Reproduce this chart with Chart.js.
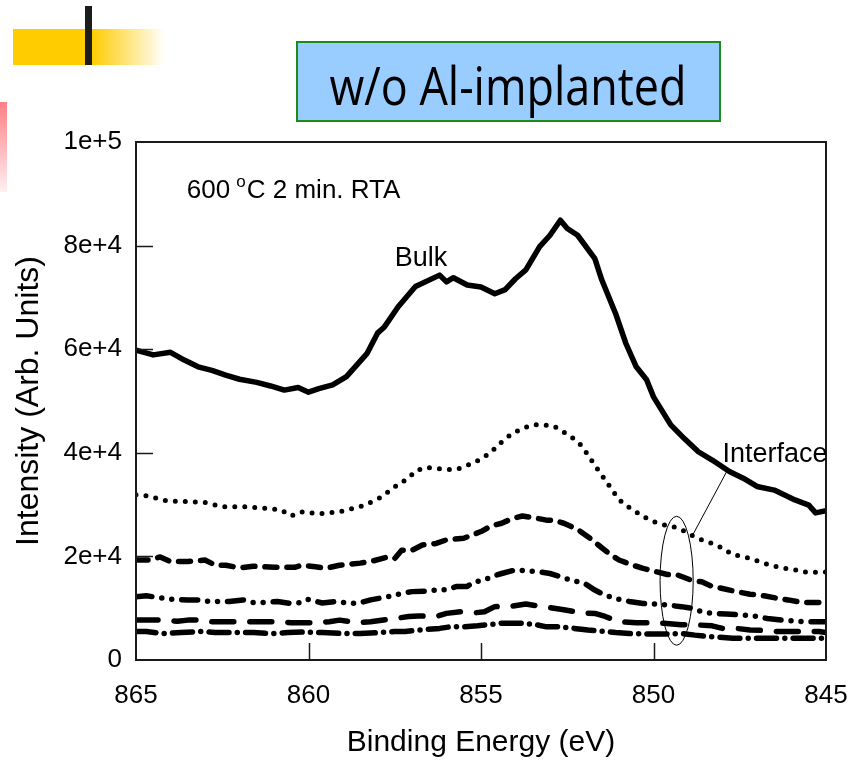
<!DOCTYPE html>
<html>
<head>
<meta charset="utf-8">
<script src="https://cdn.jsdelivr.net/npm/chart.js@4.4.1/dist/chart.umd.min.js"></script>
<style>
  body { margin: 0; background: #fff; }
  #wrap { position: relative; width: 850px; height: 763px; }
</style>
</head>
<body>
<div id="wrap"><canvas id="myChart" width="850" height="763"></canvas></div>
<script>
// binding energy (eV) and intensity for each depth profile curve
const bulkEnergy = [865, 864.5, 864.0, 863.6, 863.2, 862.8, 862.4, 862.0, 861.5, 861.1, 860.7, 860.3, 860.0, 859.7, 859.3, 858.9, 858.3, 858.0, 857.8, 857.4, 856.9, 856.2, 856.0, 855.8, 855.4, 855.0, 854.6, 854.3, 854.0, 853.7, 853.3, 853.0, 852.7, 852.5, 852.2, 851.7, 851.5, 851.1, 850.8, 850.5, 850.2, 850.0, 849.5, 849.1, 848.7, 848.3, 847.8, 847.4, 847.0, 846.5, 845.9, 845.5, 845.3, 845.0];
const bulkCounts = [59800, 58900, 59400, 57900, 56600, 55900, 55000, 54200, 53600, 52900, 52100, 52600, 51700, 52400, 53100, 54700, 59200, 63100, 64300, 68200, 72100, 74300, 73000, 73800, 72400, 72000, 70700, 71500, 73600, 75300, 79800, 82000, 84900, 83300, 82000, 77500, 73400, 66900, 61100, 56600, 54100, 50800, 45400, 42700, 40200, 38600, 36400, 35100, 33500, 32800, 30900, 29900, 28400, 28800];

const dotEnergy = [865, 864.7, 864.4, 864.1, 863.6, 863.0, 862.5, 861.9, 861.3, 860.8, 860.5, 860.2, 859.7, 859.1, 858.5, 858.0, 857.7, 857.4, 857.1, 856.9, 856.6, 856.0, 855.7, 855.2, 854.9, 854.6, 854.4, 854.1, 853.8, 853.5, 853.2, 852.9, 852.7, 852.4, 852.1, 851.9, 851.7, 851.5, 851.3, 851.1, 850.9, 850.6, 850.3, 850.0, 849.7, 849.5, 849.2, 848.9, 848.6, 848.3, 848.0, 847.7, 847.4, 847.1, 846.8, 846.5, 846.2, 845.9, 845.7, 845.4, 845.0];
const dotCounts = [31900, 31700, 31200, 30700, 30600, 30400, 29600, 29600, 29300, 29000, 27800, 28600, 28200, 28600, 29600, 31000, 32400, 33900, 35100, 36500, 37200, 36800, 36800, 38100, 39200, 40800, 42100, 43700, 44700, 45400, 45400, 45200, 44400, 43200, 41500, 39600, 37600, 35700, 33800, 31900, 30300, 29000, 27700, 26700, 26100, 25900, 25200, 24100, 23200, 22500, 21600, 20300, 20000, 19400, 18700, 18100, 17700, 17400, 17000, 16900, 17000];

const dashEnergy = [865, 864.6, 864.3, 864.0, 863.5, 863.0, 862.7, 862.4, 862.0, 861.6, 861.0, 860.4, 860.2, 859.8, 859.5, 859.1, 858.5, 858.2, 857.7, 857.5, 857.3, 857.0, 856.7, 856.3, 856.0, 855.5, 855.0, 854.7, 854.4, 854.1, 853.8, 853.5, 853.1, 852.9, 852.6, 852.2, 851.9, 851.6, 851.3, 851.0, 850.6, 850.3, 849.9, 849.6, 849.3, 848.9, 848.6, 848.3, 848.0, 847.6, 847.2, 846.8, 846.4, 846.1, 845.7, 845.3, 845.0];
const dashCounts = [19300, 19300, 19900, 19000, 19000, 19300, 18300, 18300, 17800, 18100, 17900, 17900, 18300, 18000, 17700, 18300, 18700, 19000, 19900, 19600, 21200, 21200, 22200, 22500, 23200, 23500, 24800, 25900, 26400, 27300, 27800, 27500, 27000, 27000, 26400, 25200, 23800, 22200, 20600, 19300, 18300, 17700, 17000, 16500, 16400, 15400, 15100, 14200, 13800, 13200, 12700, 12400, 11900, 11600, 11100, 11100, 11100];

const ddotEnergy = [865, 864.7, 864.2, 863.9, 863.5, 863.1, 862.9, 862.6, 862.3, 861.9, 861.6, 861.3, 860.9, 860.5, 860.2, 860.0, 859.6, 859.2, 858.9, 858.6, 858.2, 857.8, 857.5, 857.3, 857.0, 856.6, 856.3, 856.0, 855.7, 855.4, 855.2, 854.9, 854.7, 854.4, 854.0, 853.6, 853.3, 853.0, 852.7, 852.4, 852.0, 851.7, 851.4, 851.0, 850.7, 850.3, 849.9, 849.6, 849.2, 848.9, 848.6, 848.3, 847.9, 847.5, 847.1, 846.7, 846.3, 845.9, 845.6, 845.2, 845.0];
const ddotCounts = [12200, 12400, 11900, 11700, 11600, 11600, 11300, 11300, 11300, 11600, 11100, 11100, 11300, 10900, 11100, 11700, 11000, 11300, 11000, 10900, 11600, 12100, 12500, 12900, 13200, 13300, 13500, 13600, 14200, 14200, 15100, 15400, 16100, 16700, 17400, 17200, 17000, 16700, 16100, 15400, 14800, 13500, 12500, 11700, 11300, 10900, 10800, 10600, 10300, 10000, 9300, 9000, 8900, 8700, 8500, 8000, 7700, 7500, 7400, 7400, 7400];

const ldashEnergy = [865, 864.6, 864.3, 863.8, 863.5, 863.1, 862.8, 862.0, 861.6, 860.9, 860.5, 859.7, 859.4, 859.1, 858.6, 858.2, 857.5, 857.1, 856.8, 856.3, 856.0, 855.6, 855.2, 854.9, 854.6, 854.3, 854.1, 853.7, 853.3, 852.6, 852.1, 851.7, 851.4, 851.0, 850.5, 850.1, 849.7, 849.2, 848.8, 848.3, 848.0, 847.6, 847.2, 846.8, 846.4, 846.0, 845.6, 845.2, 845.0];
const ldashCounts = [7700, 7700, 7700, 7500, 7700, 7700, 7400, 7400, 7400, 7400, 7200, 7200, 7400, 7700, 7200, 7400, 8000, 8400, 8500, 8400, 9000, 9300, 9100, 9300, 10300, 10400, 10400, 10800, 10400, 9700, 9100, 9000, 8400, 7400, 7200, 7200, 7100, 6800, 6800, 6600, 6100, 6100, 5800, 5700, 5500, 5500, 5500, 5500, 5300];

const dashdotEnergy = [865, 864.7, 864.2, 863.7, 863.1, 862.7, 862.1, 861.6, 861.1, 860.6, 860.1, 859.6, 859.0, 858.5, 857.9, 857.5, 857.2, 856.9, 856.6, 856.2, 855.9, 855.5, 855.1, 854.8, 854.4, 854.2, 853.8, 853.4, 853.1, 852.7, 852.3, 851.9, 851.4, 851.1, 850.7, 850.2, 849.8, 849.2, 848.8, 848.3, 847.7, 847.1, 846.5, 845.9, 845.3, 845.0];
const dashdotCounts = [5500, 5500, 5100, 5300, 5500, 5300, 5300, 5300, 5100, 5300, 5400, 5300, 5100, 5100, 5300, 5500, 5500, 5700, 5900, 6100, 6400, 6400, 6600, 6800, 7100, 7100, 7100, 6800, 6400, 6400, 6100, 5800, 5500, 5300, 5100, 5000, 5000, 5100, 4800, 4500, 4200, 4200, 4200, 4200, 4200, 4200];

const xTicks = [865, 860, 855, 850, 845];
const yTicks = [0, 20000, 40000, 60000, 80000, 100000];

const FONT = "'Liberation Sans', Arial, sans-serif";

function toPoints(energy, counts) {
    return energy.map((e, i) => ({ x: e, y: counts[i] }));
}

function curve(energy, counts, width, dash) {
    return {
        data: toPoints(energy, counts),
        borderColor: '#000',
        borderWidth: width,
        borderDash: dash,
        borderCapStyle: 'round',
        borderJoinStyle: 'round',
        pointRadius: 0,
        tension: 0,
        fill: false
    };
}

// slide decorations + title box
const slideDecor = {
    id: 'slideDecor',
    beforeDraw(chart) {
        const ctx = chart.ctx;
        ctx.save();
        // yellow bar fading to white
        ctx.fillStyle = '#ffcc00';
        ctx.fillRect(13, 29, 80, 36);
        let g = ctx.createLinearGradient(92, 0, 165, 0);
        g.addColorStop(0, 'rgba(255,204,0,1)');
        g.addColorStop(1, 'rgba(255,204,0,0)');
        ctx.fillStyle = g;
        ctx.fillRect(92, 29, 73, 36);
        ctx.fillStyle = '#1c1c1c';
        ctx.fillRect(85, 6, 7, 59);
        // pink strip
        g = ctx.createLinearGradient(0, 102, 0, 192);
        g.addColorStop(0, '#ff7f86');
        g.addColorStop(1, '#fff0f2');
        ctx.fillStyle = g;
        ctx.fillRect(0, 102, 7, 90);
        // title box
        ctx.fillStyle = '#99ccff';
        ctx.fillRect(297, 42, 423, 79);
        ctx.strokeStyle = '#1d8a1d';
        ctx.lineWidth = 2;
        ctx.strokeRect(297, 42, 423, 79);
        ctx.fillStyle = '#000';
        ctx.font = "48px 'Open Sans', 'DejaVu Sans', sans-serif";
        const title = 'w/o Al-implanted';
        const w = ctx.measureText(title).width;
        ctx.translate(508, 105);
        ctx.scale(357 / w, 1.12);
        ctx.textAlign = 'center';
        ctx.textBaseline = 'alphabetic';
        ctx.fillText(title, 0, 0);
        ctx.restore();
    }
};

// frame, inward ticks and annotations
const frameAndNotes = {
    id: 'frameAndNotes',
    afterDatasetsDraw(chart) {
        const ctx = chart.ctx;
        const a = chart.chartArea;
        const xs = chart.scales.x, ys = chart.scales.y;
        ctx.save();
        ctx.strokeStyle = '#1a1a1a';
        ctx.lineWidth = 2;
        ctx.strokeRect(a.left, a.top, a.right - a.left, a.bottom - a.top);
        ctx.lineWidth = 1.5;
        ctx.beginPath();
        yTicks.slice(1, -1).forEach(v => {
            const py = Math.round(ys.getPixelForValue(v)) + 0.5;
            ctx.moveTo(a.left, py);
            ctx.lineTo(a.left + 17, py);
        });
        xTicks.slice(1, -1).forEach(v => {
            const px = Math.round(xs.getPixelForValue(v)) + 0.5;
            ctx.moveTo(px, a.bottom);
            ctx.lineTo(px, a.bottom - 17);
        });
        ctx.stroke();

        // interface ellipse and leader line
        ctx.strokeStyle = '#000';
        ctx.lineWidth = 1;
        const cx = xs.getPixelForValue(849.33), cy = ys.getPixelForValue(15300);
        const rx = Math.abs(xs.getPixelForValue(849.33 - 0.48) - cx);
        const ry = Math.abs(ys.getPixelForValue(15300 + 12450) - cy);
        ctx.beginPath();
        ctx.ellipse(cx, cy, rx, ry, 0, 0, Math.PI * 2);
        ctx.stroke();
        ctx.beginPath();
        ctx.moveTo(xs.getPixelForValue(848.89), ys.getPixelForValue(23800));
        ctx.lineTo(xs.getPixelForValue(847.88), ys.getPixelForValue(36350));
        ctx.stroke();

        // text labels
        ctx.fillStyle = '#000';
        ctx.textBaseline = 'alphabetic';
        ctx.textAlign = 'left';
        ctx.font = '27px ' + FONT;
        ctx.fillText('Interface', xs.getPixelForValue(848.0), ys.getPixelForValue(38300));
        ctx.fillText('Bulk', xs.getPixelForValue(857.5), ys.getPixelForValue(76100));

        let tx = xs.getPixelForValue(863.53);
        const ty = ys.getPixelForValue(89100);
        ctx.font = '26px ' + FONT;
        ctx.fillText('600', tx, ty);
        tx += ctx.measureText('600 ').width - 1;
        ctx.font = '17px ' + FONT;
        ctx.fillText('o', tx, ty - 11);
        tx += ctx.measureText('o').width + 1;
        ctx.font = '26px ' + FONT;
        ctx.fillText('C 2 min. RTA', tx, ty);
        ctx.restore();
    }
};

Chart.defaults.font.family = FONT;
Chart.defaults.color = '#000';

new Chart(document.getElementById('myChart'), {
    type: 'line',
    data: {
        datasets: [
            curve(bulkEnergy, bulkCounts, 5.5, []),
            curve(dotEnergy, dotCounts, 5, [0, 10]),
            curve(dashEnergy, dashCounts, 5.5, [12, 10]),
            curve(ddotEnergy, ddotCounts, 5.5, [16, 10, 0, 10, 0, 10]),
            curve(ldashEnergy, ldashCounts, 5.5, [22, 16]),
            curve(dashdotEnergy, dashdotCounts, 5.5, [20, 8.3, 0, 8.3])
        ]
    },
    options: {
        responsive: false,
        animation: false,
        layout: { padding: { top: 142, right: 24, left: 0, bottom: 0 } },
        plugins: { legend: { display: false }, tooltip: { enabled: false } },
        scales: {
            x: {
                type: 'linear',
                reverse: true,
                min: 845,
                max: 865,
                afterFit: (s) => { s.height = 103; s.paddingLeft = 0; s.paddingRight = 0; },
                afterBuildTicks: (s) => { s.ticks = xTicks.map(v => ({ value: v })); },
                grid: { display: false, drawTicks: false },
                border: { display: false },
                ticks: { font: { size: 26 }, padding: 20, maxRotation: 0, autoSkip: false },
                title: { display: true, text: 'Binding Energy (eV)', font: { size: 30 }, padding: { top: 0, bottom: 2 } }
            },
            y: {
                min: 0,
                max: 100000,
                afterFit: (s) => { s.width = 136; s.paddingTop = 0; s.paddingBottom = 0; },
                afterBuildTicks: (s) => { s.ticks = yTicks.map(v => ({ value: v })); },
                grid: { display: false, drawTicks: false },
                border: { display: false },
                ticks: {
                    font: { size: 26 },
                    padding: 14,
                    callback: (v) => v === 0 ? '0' : v.toExponential(0)
                },
                title: { display: true, text: 'Intensity (Arb. Units)', font: { size: 32 }, padding: { top: 10, bottom: 0 } }
            }
        }
    },
    plugins: [slideDecor, frameAndNotes]
});
</script>
</body>
</html>
